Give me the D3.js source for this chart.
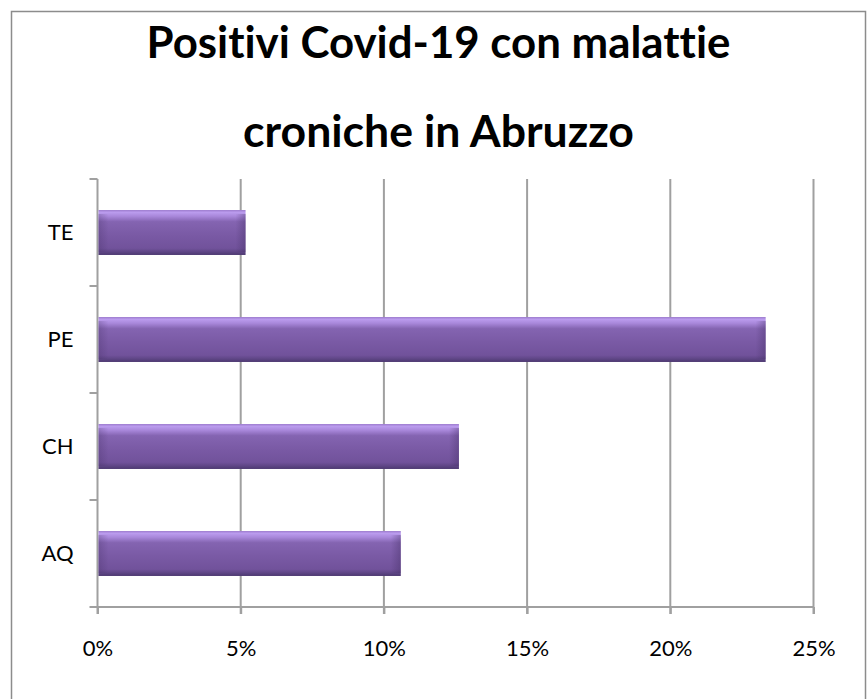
<!DOCTYPE html>
<html>
<head>
<meta charset="utf-8">
<script src="https://cdn.jsdelivr.net/npm/d3@7"></script>
<style>
  body { margin: 0; background: #fff; }
  text { font-family: Lato, "Open Sans", sans-serif; font-variant-ligatures: none; font-feature-settings: "liga" 0; }
</style>
</head>
<body>
<div id="chart"></div>
<script>
// Data
var categories = ["AQ", "CH", "PE", "TE"];
var values = [0.1059, 0.1262, 0.2333, 0.0517];
var xTicks = [0, 0.05, 0.10, 0.15, 0.20, 0.25];
var titleLines = ["Positivi Covid-19 con malattie", "croniche in Abruzzo"];

var width = 867, height = 699;
var plot = { left: 97.5, right: 813.5, top: 179, bottom: 607 };

var svg = d3.select("#chart")
  .append("svg")
  .attr("width", width)
  .attr("height", height);

// gradients for the bevelled bars
var defs = svg.append("defs");
var vg = defs.append("linearGradient")
  .attr("id", "barV").attr("x1", 0).attr("y1", 0).attr("x2", 0).attr("y2", 1);
[[0, "#9a78cc"], [0.05, "#bb9cee"], [0.14, "#a887da"], [0.26, "#8464b1"],
 [0.55, "#7a5aa5"], [0.85, "#71529b"], [0.93, "#5f4686"], [1, "#4c3870"]]
  .forEach(function (s) { vg.append("stop").attr("offset", s[0]).attr("stop-color", s[1]); });

var rg = defs.append("linearGradient")
  .attr("id", "barR").attr("x1", 0).attr("y1", 0).attr("x2", 1).attr("y2", 0);
rg.append("stop").attr("offset", 0).attr("stop-color", "#3e2a5e").attr("stop-opacity", 0);
rg.append("stop").attr("offset", 1).attr("stop-color", "#3e2a5e").attr("stop-opacity", 0.35);

var lg = defs.append("linearGradient")
  .attr("id", "barL").attr("x1", 0).attr("y1", 0).attr("x2", 1).attr("y2", 0);
lg.append("stop").attr("offset", 0).attr("stop-color", "#3e2a5e").attr("stop-opacity", 0.25);
lg.append("stop").attr("offset", 1).attr("stop-color", "#3e2a5e").attr("stop-opacity", 0);

// outer border
svg.append("rect")
  .attr("x", 11.5).attr("y", 11.5)
  .attr("width", 854).attr("height", 700)
  .attr("fill", "none")
  .attr("stroke", "#8c8c8c")
  .attr("stroke-width", 1.5);

// title, sized to fit the original width
var titleWidths = [584, 391];
var titleBase = [58, 147];
titleLines.forEach(function (t, i) {
  var txt = svg.append("text")
    .attr("x", 438.5)
    .attr("y", titleBase[i])
    .attr("text-anchor", "middle")
    .style("font-weight", "bold")
    .style("font-size", "40px")
    .text(t);
  var w = txt.node().getComputedTextLength();
  txt.style("font-size", (40 * titleWidths[i] / w) + "px");
});

// scales
var x = d3.scaleLinear().domain([0, 0.25]).range([plot.left, plot.right]);
var y = d3.scaleBand().domain(categories).range([plot.bottom, plot.top]).paddingInner(0.58).paddingOuter(0.29);
var yb = d3.scaleBand().domain(categories).range([plot.bottom, plot.top]);

// gridlines
svg.append("g")
  .selectAll("line")
  .data(xTicks.slice(1))
  .enter().append("line")
  .attr("x1", function (d) { return x(d); })
  .attr("x2", function (d) { return x(d); })
  .attr("y1", plot.top)
  .attr("y2", plot.bottom + 7)
  .attr("stroke", "#a0a0a0")
  .attr("stroke-width", 2);

// x axis
var xAxis = svg.append("g")
  .attr("transform", "translate(0," + plot.bottom + ")")
  .call(d3.axisBottom(x).tickValues(xTicks).tickFormat(d3.format(".0%")).tickSize(7).tickSizeOuter(0).tickPadding(26));
xAxis.select(".domain").attr("stroke", "#a0a0a0").attr("stroke-width", 2)
  .attr("d", "M" + (plot.left - 8) + ",0H" + plot.right);
xAxis.selectAll(".tick line").attr("stroke", "#a0a0a0").attr("stroke-width", 2);
xAxis.selectAll(".tick text").attr("fill", "#000").style("font-size", "22px").style("font-family", "Lato, sans-serif");

// y axis with ticks at category boundaries
var yAxis = svg.append("g")
  .attr("transform", "translate(" + plot.left + ",0)")
  .call(d3.axisLeft(yb).tickSize(0).tickPadding(24));
yAxis.select(".domain").attr("stroke", "#a0a0a0").attr("stroke-width", 2)
  .attr("d", "M0," + plot.top + "V" + (plot.bottom + 7));
yAxis.selectAll(".tick text").attr("fill", "#000").style("font-size", "22px").style("font-family", "Lato, sans-serif");
yAxis.selectAll(".bound")
  .data(categories)
  .enter().append("line")
  .attr("class", "bound")
  .attr("x1", -8).attr("x2", 0)
  .attr("y1", function (d) { return yb(d); })
  .attr("y2", function (d) { return yb(d); })
  .attr("stroke", "#a0a0a0")
  .attr("stroke-width", 2);

// bars
var bars = svg.append("g")
  .selectAll("g")
  .data(categories)
  .enter().append("g");

bars.append("rect")
  .attr("x", x(0) + 1)
  .attr("y", function (d) { return y(d); })
  .attr("width", function (d, i) { return x(values[i]) - x(0) - 1; })
  .attr("height", y.bandwidth())
  .attr("fill", "url(#barV)");

bars.append("rect")
  .attr("x", function (d, i) { return x(values[i]) - 10; })
  .attr("y", function (d) { return y(d) + 4; })
  .attr("width", 10)
  .attr("height", y.bandwidth() - 7)
  .attr("fill", "url(#barR)");

bars.append("rect")
  .attr("x", x(0) + 1)
  .attr("y", function (d) { return y(d) + 4; })
  .attr("width", 10)
  .attr("height", y.bandwidth() - 7)
  .attr("fill", "url(#barL)");
</script>
</body>
</html>
